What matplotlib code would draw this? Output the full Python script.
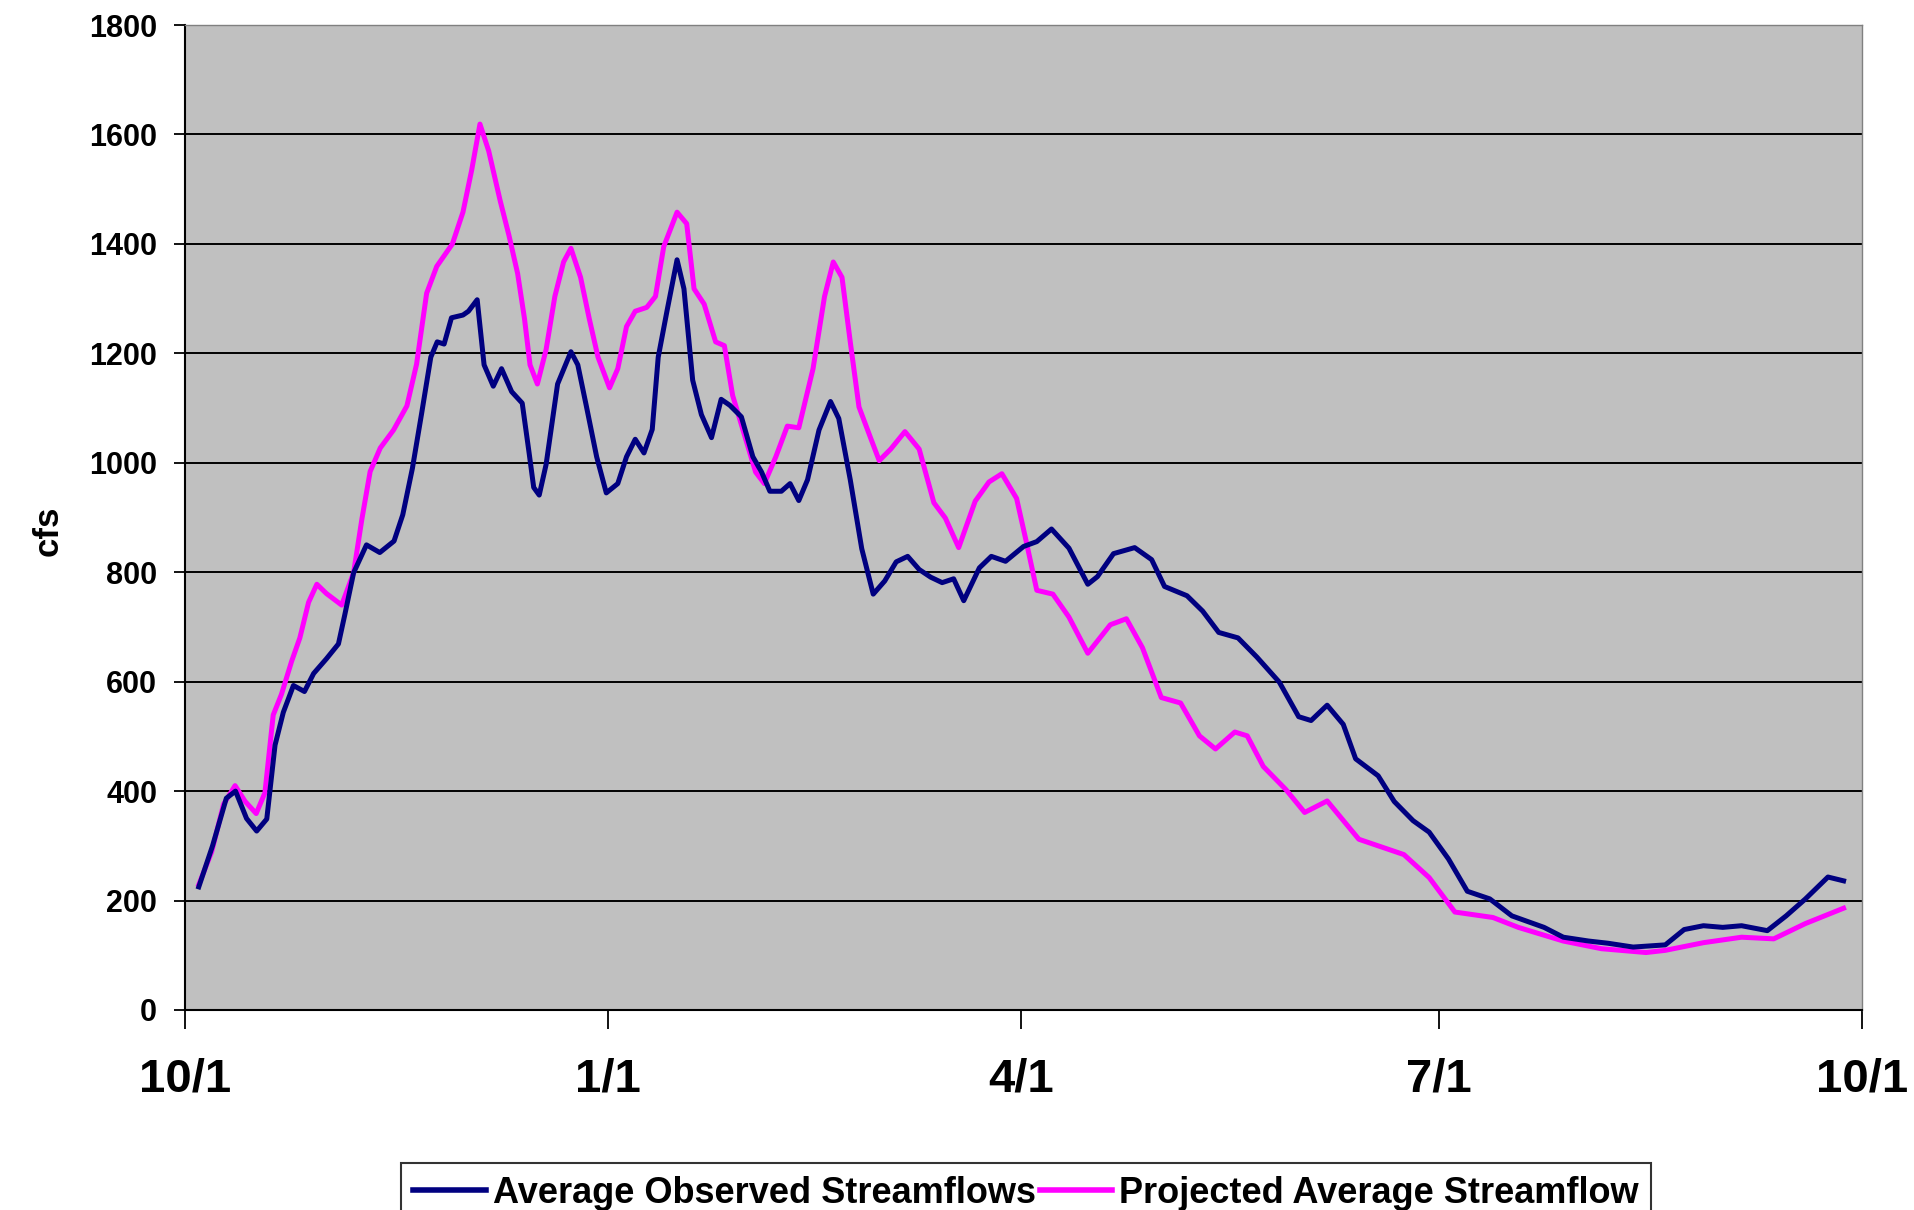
import numpy as np
import matplotlib
matplotlib.use('Agg')
import matplotlib.pyplot as plt

# Data (day of water year starting 10/1, flow in cfs)
obs_day = [3, 6, 9, 11, 13.4, 15.6, 17.8, 19.6, 21.4, 23.6, 26, 28, 30.8, 33.4, 34.8,
           36.7, 39.5, 42.4, 45.5, 47.4, 49.5, 51.5, 53.5, 54.9, 56.4, 58, 60.5, 61.7,
           63.6, 65.1, 67.1, 68.9, 71.1, 73.4, 74.9, 75.9, 77.1, 78.6, 81.1, 84, 85.5,
           87.4, 89.6, 91.7, 94.2, 96.1, 98, 99.9, 101.7, 103, 104.9, 107.1, 108.6,
           110.5, 112.4, 114.6, 116.7, 118.6, 121.1, 123.6, 125.5, 127.3, 129.8, 131.7,
           133.6, 135.5, 138, 140.5, 142.3, 144.8, 147.3, 149.8, 152.3, 154.8, 157.3,
           159.8, 162.3, 164.8, 167.3, 169.5, 172.9, 175.5, 178.6, 182.5, 185.4, 188.6,
           192.4, 196.5, 198.6, 202.1, 206.7, 210.4, 213.2, 218.1, 221.5, 225, 229.2,
           233.3, 238.2, 242.4, 245.1, 248.6, 252.1, 254.8, 259.7, 263.2, 267.3, 270.8,
           275, 279.1, 284, 288.8, 295.8, 300, 305.5, 309.7, 315.2, 322.2, 326.3,
           330.5, 334.7, 338.8, 344.4, 348.5, 352.7, 357.6, 361]
obs_cfs = [225, 300, 387, 400, 350, 327, 349, 484, 544, 593, 582, 615, 642, 669, 723,
           799, 850, 836, 857, 905, 990, 1090, 1193, 1221, 1217, 1265, 1270, 1277,
           1298, 1179, 1140, 1172, 1130, 1109, 1018, 955, 941, 997, 1144, 1203, 1179,
           1102, 1011, 945, 962, 1011, 1043, 1018, 1061, 1193, 1277, 1371, 1318,
           1151, 1088, 1046, 1116, 1105, 1084, 1011, 983, 948, 948, 962,
           931, 969, 1060, 1112, 1081, 969, 843, 760, 784, 819, 829,
           805, 791, 781, 788, 748, 808, 829, 820, 847, 856, 879,
           844, 778, 792, 834, 845, 823, 774, 757, 729, 690, 680,
           645, 599, 536, 529, 557, 522, 459, 428, 381, 346, 325,
           276, 217, 203, 172, 151, 133, 126, 122, 115, 119, 147,
           154, 151, 154, 145, 172, 203, 243, 236]

proj_day = [3, 5.8, 8.4, 10.9, 13.1, 15.5, 17.4, 19.2, 21, 23.2, 25, 26.9, 28.7, 30.8,
            34.1, 36.7, 38.5, 40.3, 42.5, 45.4, 48.3, 50.4, 52.6, 54.8, 58.2, 60.5,
            62.4, 64.2, 66.1, 68.6, 70.5, 72.4, 73.9, 75.1, 76.7, 78.6, 80.5, 82.4, 84,
            86.1, 88, 89.9, 92.4, 94.2, 96.1, 98, 100.5, 102.4, 104.2, 107.1, 109.2,
            110.8, 113, 115.5, 117.4, 119.2, 121.7, 124.2, 126.1, 128.6, 131.1, 133.6,
            136.7, 139.2, 141.1, 143, 144.8, 146.7, 149.2, 151.1, 153.6, 156.7, 159.8,
            163, 165.5, 168.4, 172, 175, 177.8, 181, 183, 185.4, 188.9, 192.4, 196.5,
            201.4, 204.9, 208.4, 212.5, 216.7, 220.8, 224.3, 228.5, 231.2, 234.7, 239.6,
            243.7, 248.6, 255.5, 265.3, 270.8, 276.4, 284.7, 290.2, 300, 308.3, 318,
            322.2, 330.5, 338.8, 345.8, 352.7, 361]
proj_cfs = [229, 289, 376, 410, 381, 359, 397, 539, 577, 637, 680, 745, 778, 761,
            740, 799, 897, 984, 1027, 1060, 1104, 1180, 1310, 1359, 1400, 1458,
            1535, 1619, 1570, 1479, 1416, 1346, 1263, 1179, 1144, 1207, 1304, 1367, 1392,
            1339, 1263, 1193, 1137, 1172, 1249, 1277, 1284, 1304, 1395, 1458, 1437,
            1318, 1290, 1221, 1214, 1123, 1053, 983, 962, 1011, 1067, 1064,
            1172, 1304, 1367, 1339, 1221, 1102, 1046, 1004, 1025, 1057, 1025,
            927, 899, 845, 930, 965, 980, 935, 860, 767, 760, 718, 652,
            704, 715, 662, 571, 561, 501, 477, 508, 501, 445, 403,
            361, 382, 312, 284, 242, 179, 169, 151, 126, 112, 105,
            109, 123, 133, 130, 158, 186]

tick_days = [0, 92, 182, 273, 365]
tick_labels = ['10/1', '1/1', '4/1', '7/1', '10/1']
y_ticks = list(range(0, 2000, 200))

plt.rcParams['font.family'] = ['Liberation Sans', 'DejaVu Sans']
plt.rcParams['font.weight'] = 'bold'

fig = plt.figure(figsize=(19.15, 12.10), dpi=100)
ax = fig.add_axes([0.0966, 0.1653, 0.8757, 0.8140])
ax.set_facecolor('#C0C0C0')

# horizontal grid lines like the Excel chart
for y in y_ticks[1:-1]:
    ax.axhline(y, color='black', lw=1.4, zorder=1)

ax.plot(obs_day, obs_cfs, color='#000080', lw=3.6, label='Average Observed Streamflows', zorder=3)
ax.plot(proj_day, proj_cfs, color='#FF00FF', lw=3.6, label='Projected Average Streamflow', zorder=2)

ax.set_xlim(0, 365)
ax.set_ylim(0, 1800)
ax.set_xticks(tick_days)
ax.set_xticklabels(tick_labels, fontsize=34, fontweight='bold')
ax.set_yticks(y_ticks)
ax.set_yticklabels([str(v) for v in y_ticks], fontsize=22, fontweight='bold')
ax.tick_params(axis='x', direction='out', length=14, width=1.3, pad=20)
ax.tick_params(axis='y', direction='out', length=8, width=1.3, pad=12)

for s in ['left', 'bottom']:
    ax.spines[s].set_color('black')
    ax.spines[s].set_linewidth(1.5)
for s in ['top', 'right']:
    ax.spines[s].set_color('#808080')
    ax.spines[s].set_linewidth(1.0)

ax.set_ylabel('cfs', fontsize=25, fontweight='bold')
ax.yaxis.set_label_coords(-0.072, 0.487)

leg = fig.legend(loc='upper center', bbox_to_anchor=(0.5358, 0.0388), ncol=2,
                 fontsize=26, frameon=True, fancybox=False, shadow=False,
                 handlelength=2.0, handletextpad=0.2, columnspacing=0.1,
                 borderpad=0.35, borderaxespad=0)
leg.get_frame().set_edgecolor('black')
leg.get_frame().set_linewidth(1.5)
for t in leg.get_texts():
    t.set_fontweight('bold')
for h in leg.legend_handles:
    h.set_linewidth(4)

fig.savefig('out.png', dpi=100)
